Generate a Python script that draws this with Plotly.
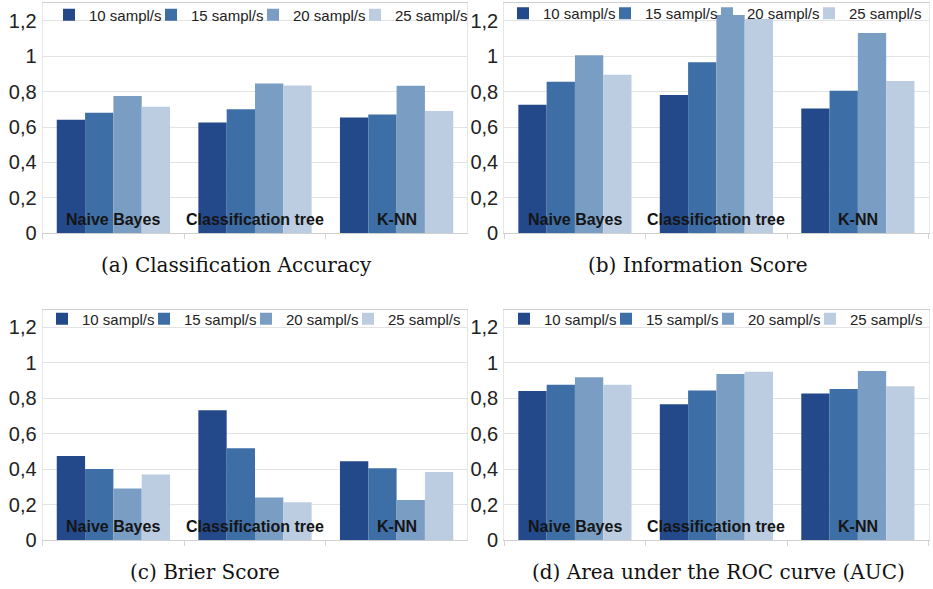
import plotly.graph_objects as go

categories = ["Naive Bayes", "Classification tree", "K-NN"]
series_names = ["10 sampl/s", "15 sampl/s", "20 sampl/s", "25 sampl/s"]
series_colors = ["#23498a", "#3d6ea5", "#7a9dc4", "#bccde2"]

# values per series (10, 15, 20, 25 sampl/s) across categories
accuracy_values = [
    [0.641, 0.626, 0.654],
    [0.681, 0.700, 0.671],
    [0.775, 0.845, 0.833],
    [0.715, 0.835, 0.690],
]
information_values = [
    [0.725, 0.780, 0.705],
    [0.855, 0.965, 0.805],
    [1.005, 1.232, 1.130],
    [0.895, 1.210, 0.860],
]
brier_values = [
    [0.474, 0.732, 0.445],
    [0.400, 0.517, 0.405],
    [0.290, 0.240, 0.226],
    [0.369, 0.213, 0.384],
]
auc_values = [
    [0.841, 0.766, 0.826],
    [0.876, 0.843, 0.852],
    [0.918, 0.937, 0.954],
    [0.876, 0.950, 0.867],
]
captions = [
    "(a) Classification Accuracy",
    "(b) Information Score",
    "(c) Brier Score",
    "(d) Area under the ROC curve (AUC)",
]
y_tick_values = [0, 0.2, 0.4, 0.6, 0.8, 1.0, 1.2]

W, H = 933, 589
panels = [accuracy_values, information_values, brier_values, auc_values]

# pixel geometry of each panel: (left, right, top, bottom)
geom = [
    (42.6, 467.4, 3.0, 233.3),
    (504.2, 928.6, 3.0, 233.3),
    (42.6, 467.4, 309.6, 540.0),
    (504.2, 928.6, 309.6, 540.0),
]
legend_pos = [(49, 15), (503, 13.5), (42, 319), (504, 319)]
caption_pos = [(236.5, 265), (698, 265), (204.7, 571.5), (718.5, 571.5)]

fig = go.Figure()
layout = dict(
    width=W, height=H,
    margin=dict(l=0, r=0, t=0, b=0, autoexpand=False),
    template="none",
    paper_bgcolor="white",
    plot_bgcolor="white",
    separators=", ",
    barmode="group",
    bargap=0.2,
    bargroupgap=0,
    showlegend=True,
    annotations=[],
)

for p, vals in enumerate(panels):
    sfx = "" if p == 0 else str(p + 1)
    leg = "legend" + sfx
    for s, name in enumerate(series_names):
        fig.add_trace(go.Bar(
            x=categories, y=vals[s], name=name,
            marker=dict(color=series_colors[s], line=dict(width=0)),
            xaxis="x" + sfx, yaxis="y" + sfx, legend=leg,
            showlegend=True,
        ))
    # invisible spacer legend entry (point lies below the visible range)
    # so the last legend label is not clipped
    fig.add_trace(go.Scatter(
        x=[categories[0]], y=[-1], mode="markers", name=" ",
        marker=dict(color="rgba(0,0,0,0)", size=1, line=dict(width=0)),
        xaxis="x" + sfx, yaxis="y" + sfx,
        legend=leg, showlegend=True, hoverinfo="skip",
    ))
    l, r, t, b = geom[p]
    layout["xaxis" + sfx] = dict(
        domain=[l / W, r / W], anchor="y" + sfx,
        type="category", showticklabels=False,
        tickson="boundaries", ticks="outside", ticklen=5, tickcolor="#d4d4d4",
        showgrid=False, showline=True, linecolor="#cfcfcf", linewidth=1,
        mirror=True, zeroline=False, fixedrange=True, automargin=False,
    )
    layout["yaxis" + sfx] = dict(
        domain=[1 - b / H, 1 - t / H], anchor="x" + sfx,
        range=[0, 1.3], tickvals=y_tick_values,
        showgrid=True, gridcolor="#e3e3e3", gridwidth=1,
        showline=True, linecolor="#e6e6e6", mirror=True,
        zeroline=False, ticks="", ticklabelstandoff=1,
        tickfont=dict(family="Liberation Sans", size=20, color="#222222"),
        fixedrange=True, automargin=False,
    )
    lx, ly = legend_pos[p]
    layout[leg] = dict(
        orientation="h", x=lx / W, y=1 - ly / H,
        xanchor="left", yanchor="middle",
        bgcolor="rgba(0,0,0,0)", borderwidth=0,
        entrywidth=57, entrywidthmode="pixels",
        font=dict(family="Liberation Sans", size=15, color="#222222"),
        traceorder="normal",
    )
    for c in categories:
        layout["annotations"].append(dict(
            x=c, y=0, xref="x" + sfx, yref="y" + sfx,
            text="<b>" + c + "</b>", showarrow=False,
            yanchor="middle", yshift=14,
            font=dict(family="Liberation Sans", size=16, color="#151515"),
        ))
    cx, cy = caption_pos[p]
    layout["annotations"].append(dict(
        x=cx / W, y=1 - cy / H, xref="paper", yref="paper",
        text=captions[p], showarrow=False,
        xanchor="center", yanchor="middle",
        font=dict(family="DejaVu Serif", size=20, color="#111111"),
    ))

fig.update_layout(**layout)
fig.write_html(
    "out.html",
    config={"displayModeBar": False},
    post_script="document.body.style.margin='0';document.body.style.overflow='hidden';",
)
